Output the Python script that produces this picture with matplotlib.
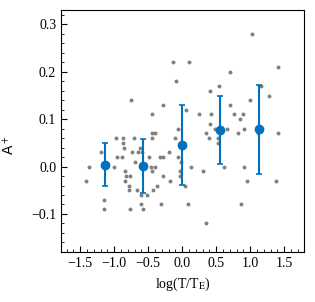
import numpy as np
import matplotlib
matplotlib.use("Agg")
import matplotlib.pyplot as plt
from matplotlib.ticker import MultipleLocator

plt.rcParams['font.family'] = ['Liberation Serif', 'DejaVu Serif']
plt.rcParams['mathtext.fontset'] = 'stix'
plt.rcParams['font.size'] = 10

# individual events (gray)
x_pts = [1.021, -0.132, 0.103, 1.412, 0.701, -0.085, 0.407, 0.543, 1.154, 1.279,
         -0.759, 1.000, -0.288, 0.701, 0.051, -0.449, 0.241, 0.422, 0.768, 0.897,
         0.846, 0.407, -0.063, 0.488, 0.660, 0.903, 1.403, 0.815, 0.344, 1.113,
         -0.110, 0.396, 0.525, 0.529, -0.438, -0.394, -0.446, -0.968, -0.865, -0.710,
         -0.876, -0.850, -0.622, -1.196, -0.960, -0.887, -0.740, -0.656, -0.593, -0.485,
         -0.324, -0.284, -0.195, -1.368, -1.000, -0.696, -0.460, -0.397, -0.056, -0.019,
         -0.847, -0.828, -0.769, -0.847, -0.779, -1.416, -0.788, -0.662, -0.441, -0.284,
         -0.181, -0.038, -0.034, -0.372, -0.435, -0.603, -0.519, -1.156, -1.156, -0.774,
         -0.607, -0.574, -0.309, 0.124, 0.304, 0.040, 0.618, 0.907, 0.951, 1.374,
         0.088, 0.868, 0.349]
y_pts = [0.28, 0.22, 0.22, 0.21, 0.20, 0.18, 0.16, 0.17, 0.17, 0.15,
         0.14, 0.14, 0.13, 0.13, 0.12, 0.11, 0.11, 0.11, 0.11, 0.11,
         0.10, 0.09, 0.08, 0.08, 0.08, 0.08, 0.07, 0.07, 0.07, 0.07,
         0.06, 0.06, 0.06, 0.05, 0.07, 0.07, 0.06, 0.06, 0.06, 0.06,
         0.05, 0.04, 0.04, 0.03, 0.02, 0.02, 0.03, 0.03, 0.03, 0.02,
         0.02, 0.02, 0.03, 0.00, 0.00, 0.01, 0.00, 0.00, 0.02, 0.01,
         -0.01, -0.02, -0.02, -0.03, -0.04, -0.03, -0.05, -0.05, -0.01, -0.02,
         -0.03, -0.01, -0.02, -0.04, -0.05, -0.06, -0.06, -0.07, -0.09, -0.09,
         -0.08, -0.09, -0.08, 0.00, -0.01, -0.04, 0.00, 0.00, -0.03, -0.03,
         -0.08, -0.08, -0.12]

# binned means
x_bin = [-1.13, -0.57, 0.0, 0.56, 1.13]
y_bin = [0.004, 0.001, 0.046, 0.077, 0.079]
err_bin = [0.046, 0.057, 0.085, 0.072, 0.094]

fig = plt.figure(figsize=(3.15, 3.02), dpi=100)
ax = fig.add_axes([0.194, 0.166, 0.771, 0.800])

ax.scatter(x_pts, y_pts, s=8, color='#808080', linewidths=0, zorder=1)
ax.errorbar(x_bin, y_bin, yerr=err_bin, fmt='o', color='#0072BD', ms=6,
            capsize=2.5, elinewidth=1.5, capthick=1.2, zorder=3)

ax.set_xlim(-1.78, 1.79)
ax.set_ylim(-0.18, 0.33)
ax.xaxis.set_major_locator(MultipleLocator(0.5))
ax.xaxis.set_minor_locator(MultipleLocator(0.1))
ax.yaxis.set_major_locator(MultipleLocator(0.1))
ax.yaxis.set_minor_locator(MultipleLocator(0.02))
ax.tick_params(which='both', direction='in', top=False, right=False)
ax.tick_params(which='major', length=4, width=0.8)
ax.tick_params(which='minor', length=2, width=0.6)

ax.set_xlabel(r'log(T/T$_{\rm E}$)')
ax.set_ylabel(r'A$^+$', family=['DejaVu Sans'])
ax.yaxis.set_label_coords(-0.18, 0.44)

fig.savefig('out.png', dpi=100)
